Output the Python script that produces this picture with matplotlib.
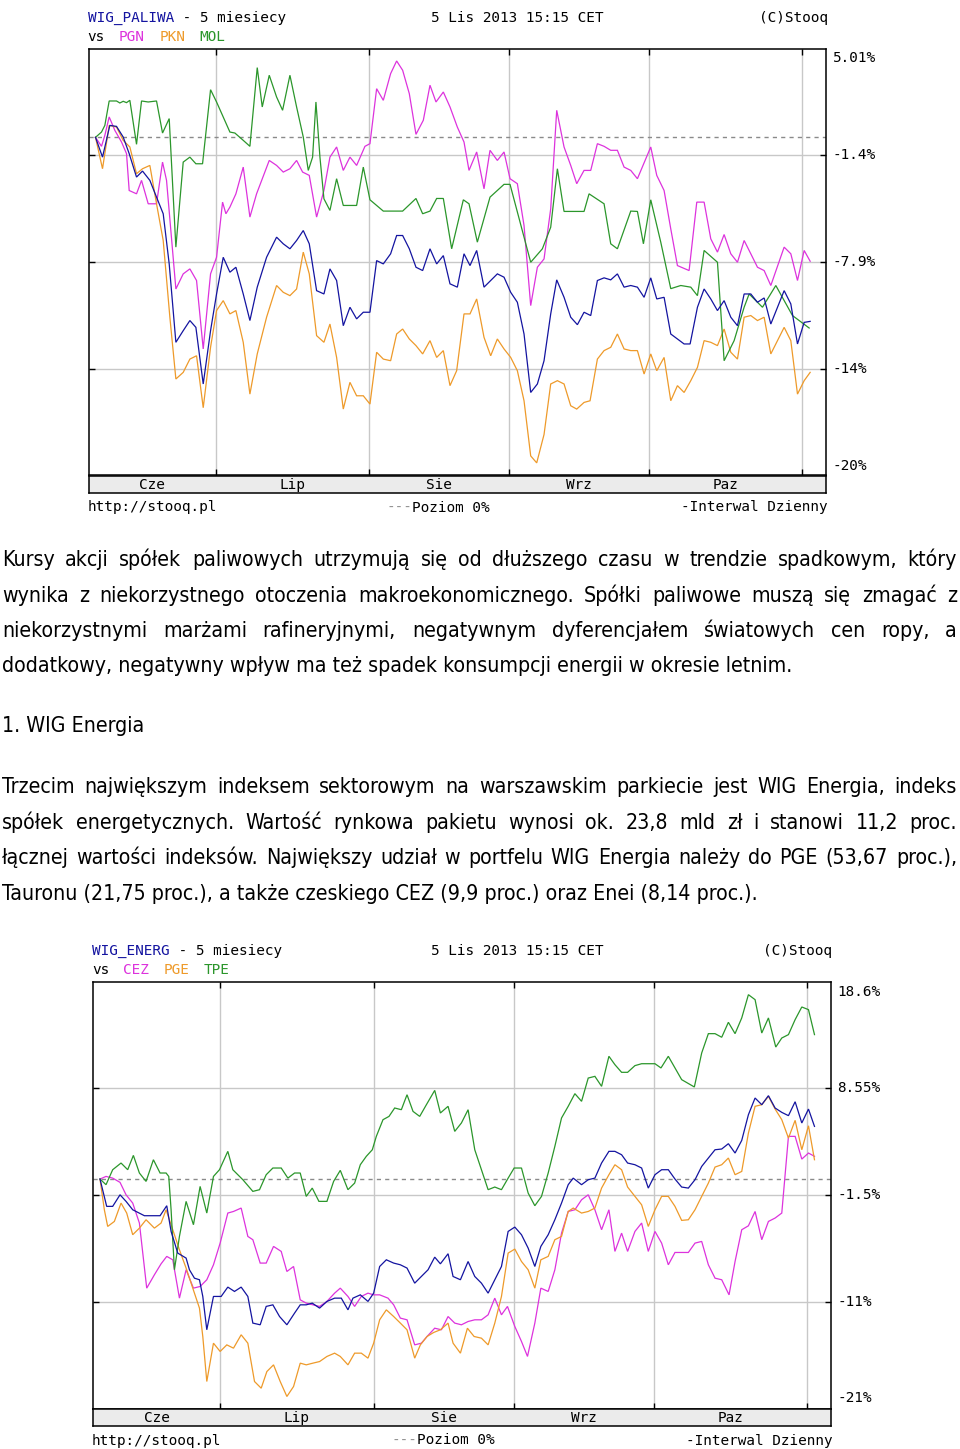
import matplotlib
matplotlib.use("Agg")
import matplotlib.pyplot as plt
from matplotlib import transforms

W, H = 960, 1449

BLUE = '#1414a0'
MAGENTA = '#dd33dd'
ORANGE = '#ee9a2a'
GREEN = '#2b962b'
GRID = '#c8c8c8'

# x = trading day counted from 5 Jun 2013, month boundaries Jul..Nov
month_starts = [18, 41, 62, 83, 106]
month_names = ['Cze', 'Lip', 'Sie', 'Wrz', 'Paz']

# ---- chart 1: WIG_PALIWA vs PGN, PKN, MOL (% change) ----
paliwa_levels = [5.35, -1.07, -7.49, -13.93, -20.36]
paliwa_labels = ['5.01%', '-1.4%', '-7.9%', '-14%', '-20%']

wig_paliwa_d = [0, 1.05, 2.15, 3.15, 4.15, 5.05, 6.15, 7.05, 8.15, 9.15,
                10.15, 11.05, 12.05, 13.15, 14.15, 15.05, 16.15, 17.25, 18.15, 19.15,
                20.15, 21.05, 22.15, 23.15, 24.25, 25.65, 27.15, 28.15, 29.15, 30.15,
                31.15, 32.05, 33.15, 34.25, 35.15, 36.15, 37.15, 38.15, 39.15, 40.15,
                41.15, 42.15, 43.15, 44.25, 45.15, 46.05, 47.05, 48.05, 49.05, 50.15,
                51.15, 52.15, 53.15, 54.25, 55.25, 56.15, 57.15, 58.25, 59.25, 60.25,
                61.25, 62.25, 63.25, 64.25, 65.25, 66.25, 67.25, 68.25, 69.15, 70.25,
                71.25, 72.25, 73.25, 74.25, 75.25, 76.25, 77.25, 78.25, 79.25, 80.25,
                81.25, 82.25, 83.25, 84.15, 85.25, 86.25, 87.25, 88.25, 89.15, 90.25,
                91.25, 92.25, 93.25, 94.25, 95.25, 96.25, 97.25, 98.25, 99.25, 100.25,
                101.25, 103.25, 104.25, 105.25, 106.25, 107.15]
wig_paliwa_v = [0.0, -1.19, 0.72, 0.66, 0.02, -0.98, -2.39, -2.03, -2.59, -3.60,
                -4.60, -7.62, -12.34, -11.64, -11.03, -11.44, -14.85, -11.64, -9.43, -7.22,
                -8.12, -7.82, -9.43, -11.03, -9.02, -7.22, -6.01, -6.41, -6.71, -6.21,
                -5.61, -6.41, -9.23, -9.43, -7.92, -8.62, -11.34, -10.23, -10.93, -10.53,
                -10.53, -7.42, -7.62, -7.01, -5.91, -5.91, -6.71, -7.82, -8.02, -6.71,
                -7.62, -7.12, -8.82, -9.02, -7.01, -7.72, -6.81, -9.02, -8.62, -8.22,
                -8.42, -9.33, -9.93, -11.84, -15.36, -14.85, -13.45, -10.63, -8.58, -9.63,
                -10.83, -11.28, -10.53, -10.73, -8.62, -8.46, -8.58, -8.22, -9.02, -8.92,
                -9.02, -9.63, -8.46, -9.73, -9.63, -11.84, -12.14, -12.44, -12.44, -10.23,
                -9.13, -9.73, -10.43, -9.83, -10.83, -11.34, -9.43, -9.43, -9.93, -9.67,
                -11.24, -9.23, -10.03, -12.44, -11.14, -11.08]

pgn_d = [0, 0.9, 1.4, 2.05, 2.9, 3.9, 4.65, 5.05, 6.15, 6.9,
         7.9, 9.15, 10.05, 10.65, 12.05, 13.15, 14.15, 15.15, 16.15, 17.25,
         18.15, 19.05, 19.55, 20.15, 21.05, 22.15, 23.15, 24.15, 26.05, 27.15,
         28.15, 29.15, 30.15, 31.05, 32.05, 33.15, 34.25, 35.15, 36.15, 37.15,
         38.15, 39.15, 40.4, 41.15, 42.15, 43.15, 44.25, 45.15, 46.05, 47.05,
         48.05, 49.15, 50.15, 51.05, 52.15, 53.15, 54.25, 55.25, 56.0, 57.15,
         58.25, 59.15, 60.25, 61.25, 62.15, 63.25, 64.25, 65.25, 66.25, 67.25,
         68.25, 69.15, 70.25, 71.25, 72.15, 73.25, 74.25, 75.25, 76.25, 77.25,
         78.25, 79.25, 80.25, 81.25, 83.25, 84.15, 85.25, 86.25, 87.25, 89.0,
         90.15, 91.25, 92.25, 93.25, 94.25, 95.25, 96.25, 97.25, 98.25, 99.25,
         100.25, 101.25, 103.25, 104.25, 105.25, 106.25, 107.15]
pgn_v = [0.0, -0.54, 0.12, 1.23, 0.42, -0.28, -0.98, -3.20, -3.40, -2.59,
         -4.00, -4.00, -1.49, -2.59, -9.13, -8.22, -7.92, -8.62, -12.74, -8.22,
         -7.22, -3.90, -4.60, -4.20, -3.40, -1.79, -4.80, -3.40, -1.39, -1.69,
         -2.09, -1.89, -1.39, -2.09, -2.29, -4.80, -3.20, -1.19, -0.58, -1.99,
         -1.19, -1.69, -0.54, -0.38, 2.93, 2.23, 3.84, 4.60, 4.04, 2.63,
         0.18, 1.03, 3.14, 2.13, 2.73, 1.83, 0.62, -0.28, -1.99, -0.88,
         -3.10, -0.78, -1.39, -0.88, -2.49, -2.79, -5.31, -10.13, -7.82, -7.32,
         -4.30, 1.63, -0.58, -1.69, -2.79, -1.99, -1.99, -0.38, -0.54, -0.78,
         -0.78, -1.79, -1.99, -2.49, -0.58, -2.29, -3.20, -5.51, -7.72, -8.02,
         -3.90, -3.90, -6.11, -6.91, -5.85, -7.01, -7.52, -6.21, -7.01, -7.82,
         -8.02, -8.92, -6.61, -7.01, -8.62, -6.81, -7.46]

pkn_d = [0, 1.05, 2.05, 3.15, 4.15, 5.15, 6.15, 7.05, 8.15, 9.15,
         10.15, 11.15, 12.05, 13.15, 14.15, 15.15, 16.15, 17.25, 18.15, 19.15,
         20.15, 21.05, 22.15, 23.15, 24.25, 25.65, 27.15, 28.15, 29.15, 30.15,
         31.15, 32.05, 33.15, 34.25, 35.15, 36.15, 37.15, 38.15, 39.15, 40.15,
         41.15, 42.15, 43.15, 44.25, 45.15, 46.05, 47.05, 48.05, 49.05, 50.15,
         51.15, 52.15, 53.15, 54.15, 55.25, 56.15, 57.15, 58.25, 59.25, 60.25,
         61.25, 62.25, 63.25, 64.25, 65.25, 66.15, 67.25, 68.25, 69.25, 70.25,
         71.25, 72.15, 73.25, 74.15, 75.25, 76.25, 77.25, 78.25, 79.25, 80.25,
         81.25, 82.25, 83.25, 84.15, 85.25, 86.25, 87.25, 88.25, 89.25, 90.25,
         91.25, 92.25, 93.25, 94.25, 95.25, 96.25, 97.25, 98.25, 99.25, 100.25,
         101.25, 103.25, 104.25, 105.25, 106.25, 107.15]
pkn_v = [0.0, -1.89, 0.72, 0.62, -0.18, -0.58, -2.19, -1.89, -1.69, -4.00,
         -6.21, -10.83, -14.55, -14.15, -13.35, -13.15, -16.28, -12.64, -10.43, -9.83,
         -10.63, -10.43, -12.34, -15.46, -13.04, -10.83, -8.92, -9.33, -9.53, -9.13,
         -6.91, -8.22, -11.94, -12.34, -11.24, -13.25, -16.36, -14.75, -15.56, -15.56,
         -16.06, -12.94, -13.35, -13.45, -11.84, -11.54, -12.14, -12.54, -13.04, -12.24,
         -13.25, -12.84, -14.95, -14.05, -10.63, -10.63, -9.73, -12.04, -13.15, -12.14,
         -12.74, -13.25, -14.05, -15.86, -19.18, -19.60, -17.89, -14.85, -14.65, -14.85,
         -16.16, -16.36, -15.96, -15.86, -13.35, -12.84, -12.64, -11.84, -12.74, -12.84,
         -12.84, -14.25, -13.04, -14.05, -13.25, -15.86, -14.95, -15.36, -14.65, -13.85,
         -12.24, -12.34, -12.54, -11.54, -12.94, -13.35, -10.83, -10.73, -11.03, -10.83,
         -13.04, -11.44, -12.24, -15.46, -14.65, -14.15]

mol_d = [0, 0.9, 1.4, 2.05, 3.15, 3.65, 4.15, 4.65, 5.15, 6.15,
         6.9, 7.9, 9.15, 10.05, 11.05, 12.05, 13.15, 14.15, 15.05, 16.05,
         17.25, 18.15, 20.15, 20.9, 22.15, 23.15, 24.25, 25.0, 26.05, 27.15,
         28.05, 29.15, 30.15, 31.15, 31.9, 32.55, 33.05, 33.65, 34.25, 35.15,
         36.15, 37.15, 39.15, 40.15, 41.15, 43.15, 46.05, 48.05, 49.05, 50.15,
         51.15, 52.15, 53.4, 55.15, 56.0, 57.25, 59.15, 61.25, 62.15, 63.75,
         65.25, 67.0, 68.25, 69.25, 70.25, 73.25, 74.0, 76.25, 77.25, 78.25,
         80.25, 81.25, 82.15, 83.25, 84.75, 86.25, 87.75, 89.25, 90.25, 91.25,
         93.25, 94.25, 95.75, 97.25, 98.0, 100.0, 102.0, 104.5, 107.0]
mol_v = [0.0, 0.32, 0.72, 2.19, 2.19, 2.07, 2.17, 2.09, 2.23, -0.42,
         2.19, 2.13, 2.19, 0.26, 1.13, -6.61, -1.49, -1.19, -1.59, -1.59,
         2.87, 2.13, 0.32, 0.26, -0.18, -0.54, 4.20, 1.83, 3.74, 2.43,
         1.63, 3.74, 1.83, 0.02, -1.99, -1.19, 2.13, -1.19, -3.70, -4.40,
         -2.49, -4.10, -4.10, -1.79, -3.76, -4.44, -4.44, -3.68, -4.60, -4.44,
         -3.68, -3.68, -6.71, -3.76, -4.00, -6.31, -3.60, -2.83, -2.83, -5.25,
         -7.52, -6.71, -5.41, -1.89, -4.46, -4.46, -3.40, -4.00, -6.41, -6.71,
         -4.44, -4.46, -6.41, -3.76, -6.31, -9.11, -8.92, -9.02, -9.53, -6.81,
         -7.52, -13.45, -12.24, -10.23, -9.43, -10.23, -8.92, -10.73, -11.48]

# ---- chart 2: WIG_ENERG vs CEZ, PGE, TPE (% change) ----
energ_levels = [18.6, 8.55, -1.5, -11.55, -21.6]
energ_labels = ['18.6%', '8.55%', '-1.5%', '-11%', '-21%']

wig_energ_d = [0, 1.0, 1.9, 3.0, 3.9, 4.9, 6.65, 9.0, 10.0, 10.65,
               11.65, 12.9, 13.4, 14.15, 14.9, 15.4, 16.0, 17.0, 18.15, 19.15,
               20.15, 21.15, 22.15, 22.9, 24.0, 24.9, 25.9, 26.9, 28.0, 29.15,
               30.0, 30.9, 31.8, 32.9, 34.0, 35.15, 36.15, 37.15, 37.9, 39.0,
               40.15, 41.0, 41.9, 42.9, 44.0, 45.0, 46.0, 47.15, 48.4, 49.15,
               50.15, 51.0, 52.15, 52.9, 54.0, 55.15, 56.15, 57.15, 58.15, 59.15,
               60.15, 61.15, 62.15, 63.15, 64.15, 65.15, 66.05, 67.15, 68.15, 69.15,
               70.15, 70.9, 72.15, 73.15, 74.15, 75.15, 76.25, 77.15, 78.15, 79.05,
               80.15, 81.15, 82.15, 83.15, 84.15, 85.15, 86.15, 87.15, 88.15, 89.15,
               90.15, 91.15, 92.15, 93.15, 94.15, 95.15, 96.15, 97.15, 98.15, 99.15,
               100.15, 101.15, 102.15, 103.15, 104.15, 105.15, 106.15, 107.05]
wig_energ_v = [0.0, -2.57, -2.57, -1.48, -2.10, -2.89, -3.45, -3.45, -2.51, -4.93,
               -6.97, -7.44, -8.54, -9.33, -9.48, -11.05, -14.19, -11.05, -11.05, -10.17,
               -10.58, -10.17, -11.05, -13.56, -13.72, -11.99, -11.84, -12.94, -13.72, -12.62,
               -11.84, -11.84, -11.68, -12.15, -11.52, -11.21, -11.21, -12.31, -11.21, -10.90,
               -11.52, -10.74, -8.23, -7.60, -7.91, -8.07, -8.38, -9.80, -9.01, -8.54,
               -7.35, -7.98, -7.03, -9.17, -9.48, -7.76, -9.17, -9.80, -10.74, -9.48,
               -8.23, -4.93, -4.52, -5.24, -6.50, -8.23, -6.34, -5.24, -3.83, -2.26,
               -0.53, 0.09, -0.53, -0.06, 0.09, 1.51, 2.61, 2.61, 2.29, 1.51,
               1.35, 1.04, -0.85, 0.41, 0.88, 0.88, 0.0, -0.75, -0.85, -0.06,
               1.19, 1.98, 2.76, 2.83, 3.33, 2.45, 3.64, 6.06, 7.63, 7.00,
               7.85, 6.69, 6.28, 5.97, 7.28, 5.28, 6.59, 4.96]

cez_d = [0, 0.9, 1.9, 3.0, 3.9, 4.9, 5.9, 7.0, 8.15, 9.15,
         10.0, 10.9, 11.9, 12.9, 14.0, 15.0, 16.0, 17.0, 18.0, 19.15,
         20.0, 21.15, 22.15, 22.9, 24.0, 24.9, 26.0, 27.15, 28.0, 29.0,
         30.0, 30.9, 31.9, 32.9, 34.0, 35.15, 36.0, 37.15, 38.15, 39.15,
         40.15, 41.0, 41.9, 43.15, 44.0, 45.0, 46.0, 47.15, 48.15, 49.0,
         50.15, 51.15, 52.15, 53.15, 54.15, 55.15, 56.15, 57.15, 58.15, 59.15,
         60.15, 61.05, 62.15, 63.15, 64.05, 65.15, 66.05, 67.15, 68.15, 69.15,
         70.15, 71.15, 72.15, 73.15, 74.15, 75.15, 76.25, 77.15, 78.15, 79.05,
         80.15, 81.15, 82.15, 83.15, 84.15, 85.15, 86.15, 88.15, 89.15, 90.15,
         91.15, 92.15, 93.15, 94.25, 95.15, 96.15, 97.15, 98.15, 99.15, 100.15,
         101.15, 102.15, 103.15, 104.15, 105.15, 106.15, 107.05]
cez_v = [0.0, 0.25, 0.09, -0.31, -1.48, -2.26, -4.14, -10.27, -9.01, -7.98,
         -7.28, -7.60, -11.21, -8.54, -10.27, -10.11, -9.48, -8.07, -6.03, -3.20,
         -3.05, -2.73, -5.40, -5.71, -7.91, -7.91, -6.34, -6.81, -8.70, -8.23,
         -11.37, -11.68, -11.84, -11.99, -11.52, -10.74, -10.27, -11.05, -11.99, -11.05,
         -10.74, -10.90, -10.90, -11.21, -11.84, -13.09, -13.25, -15.61, -15.45, -14.82,
         -14.04, -14.19, -12.94, -13.56, -13.72, -13.41, -13.25, -13.25, -12.78, -11.21,
         -12.78, -11.99, -13.88, -15.29, -16.70, -13.56, -10.27, -10.58, -8.54, -5.09,
         -3.05, -2.89, -1.95, -1.48, -2.89, -4.77, -2.89, -6.81, -5.09, -6.81,
         -4.93, -4.14, -6.81, -4.93, -6.03, -8.07, -6.91, -6.91, -6.03, -5.87,
         -8.07, -9.33, -9.48, -10.90, -7.76, -4.77, -4.40, -3.05, -5.71, -3.99,
         -3.67, -3.20, 4.02, 4.02, 1.88, 2.45, 2.14]

pge_d = [0, 0.65, 1.15, 2.15, 3.15, 4.0, 4.9, 5.9, 6.9, 8.15,
         9.15, 9.9, 10.9, 11.9, 12.9, 13.9, 14.9, 15.4, 16.0, 17.0,
         18.0, 19.0, 20.0, 21.15, 22.15, 23.15, 24.15, 25.0, 26.0, 27.0,
         28.0, 29.0, 30.0, 30.9, 31.9, 32.9, 34.0, 35.15, 36.0, 37.15,
         38.15, 39.15, 40.15, 41.0, 41.9, 42.9, 44.0, 45.0, 46.0, 47.15,
         48.0, 49.0, 50.0, 51.0, 52.15, 52.9, 54.0, 55.05, 56.05, 57.15,
         58.15, 59.15, 60.15, 61.15, 62.15, 63.15, 64.15, 65.15, 66.05, 67.15,
         68.15, 69.15, 70.15, 70.9, 72.15, 73.15, 74.15, 75.15, 76.25, 77.15,
         78.15, 79.05, 80.15, 81.15, 82.15, 83.15, 84.15, 85.15, 86.15, 87.15,
         88.15, 89.15, 90.15, 91.15, 92.15, 93.15, 94.15, 95.15, 96.15, 97.15,
         98.15, 99.15, 100.15, 101.15, 102.15, 103.15, 104.15, 105.15, 106.15, 107.05]
pge_v = [0.0, -2.89, -4.46, -3.99, -2.26, -3.20, -5.24, -4.62, -3.83, -4.62,
         -4.14, -2.89, -4.77, -6.66, -8.38, -10.27, -12.15, -14.82, -19.06, -15.45,
         -16.23, -15.61, -15.92, -14.66, -15.45, -19.06, -19.69, -18.12, -17.49, -19.06,
         -20.47, -19.53, -17.33, -17.49, -17.33, -17.18, -16.70, -16.39, -16.70, -17.49,
         -16.39, -16.39, -16.86, -15.45, -13.25, -12.31, -12.94, -13.56, -14.19, -16.86,
         -15.61, -14.82, -14.44, -14.19, -13.56, -15.45, -16.39, -14.04, -14.82, -14.98,
         -15.61, -13.56, -11.05, -6.97, -6.59, -7.76, -8.54, -10.27, -7.60, -7.28,
         -5.71, -5.40, -3.05, -2.73, -3.20, -3.05, -2.73, -0.85, 0.41, 1.35,
         0.88, -0.75, -1.63, -2.42, -4.46, -2.89, -1.63, -1.63, -2.57, -3.89,
         -3.83, -2.89, -1.63, -0.38, 1.13, 1.35, 1.98, 0.41, 0.72, 4.33,
         6.85, 7.00, 7.79, 6.59, 5.59, 3.86, 5.53, 2.76, 5.02, 1.82]

tpe_d = [0, 0.9, 1.9, 3.15, 4.15, 5.0, 5.9, 6.9, 8.0, 9.0,
         9.9, 10.3, 10.65, 11.15, 11.9, 12.9, 14.0, 15.0, 16.0, 17.0,
         17.9, 19.15, 19.9, 21.4, 22.9, 23.9, 24.9, 25.9, 27.15, 28.15,
         29.15, 30.0, 30.9, 31.8, 32.8, 34.0, 35.0, 36.0, 37.15, 38.15,
         39.0, 39.9, 40.8, 41.4, 42.4, 43.3, 44.15, 45.15, 46.0, 46.9,
         47.9, 48.9, 50.15, 51.0, 52.15, 53.15, 54.15, 55.15, 56.15, 57.15,
         58.15, 59.15, 60.15, 61.15, 62.05, 63.15, 64.15, 65.15, 66.15, 67.15,
         68.15, 69.15, 70.15, 71.15, 72.15, 73.15, 74.15, 75.15, 76.25, 77.15,
         78.15, 79.05, 80.15, 81.15, 83.15, 84.05, 85.15, 86.15, 87.15, 89.05,
         90.15, 91.15, 92.15, 93.15, 94.15, 95.15, 96.15, 97.15, 98.15, 99.15,
         100.15, 101.25, 102.15, 103.15, 104.15, 105.15, 106.15, 107.05]
tpe_v = [0.0, -0.53, 0.88, 1.51, 0.88, 2.23, 0.57, -0.22, 1.82, 0.57,
         0.57, 0.25, -2.89, -8.54, -5.40, -2.10, -4.30, -0.69, -3.20, 0.25,
         0.88, 2.61, 0.88, -0.06, -1.16, -1.00, 0.41, 1.04, 1.04, 0.09,
         0.57, 0.57, -1.63, -0.85, -2.10, -2.10, -0.22, 0.82, -1.00, -0.38,
         1.35, 2.14, 2.76, 4.02, 5.59, 5.90, 6.69, 6.53, 7.94, 6.37,
         5.90, 7.00, 8.35, 6.22, 6.85, 4.49, 5.28, 6.53, 2.76, 0.88,
         -1.00, -0.75, -1.00, 0.09, 1.04, 1.04, -1.32, -2.51, -1.63, 0.57,
         3.08, 5.75, 6.85, 8.04, 7.32, 9.51, 9.67, 8.73, 11.56, 10.77,
         10.05, 10.05, 10.68, 10.86, 10.86, 10.46, 11.56, 10.46, 9.36, 8.67,
         11.87, 13.69, 13.69, 13.35, 14.76, 13.69, 15.17, 17.36, 16.89, 13.75,
         15.17, 12.43, 13.28, 13.60, 15.01, 16.20, 15.95, 13.60]

# ---- article text ----
para1 = ["Kursy akcji spółek paliwowych utrzymują się od dłuższego czasu w trendzie spadkowym, który",
         "wynika z niekorzystnego otoczenia makroekonomicznego. Spółki paliwowe muszą się zmagać z",
         "niekorzystnymi marżami rafineryjnymi, negatywnym dyferencjałem światowych cen ropy, a",
         "dodatkowy, negatywny wpływ ma też spadek konsumpcji energii w okresie letnim."]
heading = "1. WIG Energia"
para2 = ["Trzecim największym indeksem sektorowym na warszawskim parkiecie jest WIG Energia, indeks",
         "spółek energetycznych. Wartość rynkowa pakietu wynosi ok. 23,8 mld zł i stanowi 11,2 proc.",
         "łącznej wartości indeksów. Największy udział w portfelu WIG Energia należy do PGE (53,67 proc.),",
         "Tauronu (21,75 proc.), a także czeskiego CEZ (9,9 proc.) oraz Enei (8,14 proc.)."]

fig = plt.figure(figsize=(W / 100, H / 100), dpi=100)
renderer = fig.canvas.get_renderer()

MONO = dict(family='DejaVu Sans Mono', fontsize=10.4)
PARA = dict(family='DejaVu Sans', fontstretch='condensed')


def fx(x):
    return x / W


def fy(y):
    return 1 - y / H


def width_of(s, **kw):
    t = fig.text(0, 0, s, **kw)
    w = t.get_window_extent(renderer).width
    t.remove()
    return w


char_w = width_of('M' * 20, **MONO) / 20


def runs(x, y, parts):
    # parts: list of (text, color); monospace so advance by characters
    for s, c in parts:
        if s.strip():
            fig.text(fx(x), fy(y), s, color=c, va='baseline', ha='left', **MONO)
        x += len(s) * char_w


def chart(left, top, right, bottom, strip_h, levels, labels, series,
          title, vs, header_y):
    ax = fig.add_axes([fx(left), fy(bottom), (right - left) / W, (bottom - top) / H])
    ax.set_xlim(-1.05, 109.45)
    ax.set_ylim(levels[-1], levels[0])
    for lvl in levels[1:-1]:
        ax.axhline(lvl, color=GRID, lw=1, zorder=1)
    for m in month_starts:
        ax.axvline(m, color=GRID, lw=1, zorder=1)
    ax.axhline(0, color='#8a8a8a', lw=1, ls=(0, (3, 3)), zorder=1)
    for d, v, c in series:
        ax.plot(d, v, color=c, lw=0.9, zorder=3, solid_joinstyle='miter')
    ax.set_xticks(month_starts)
    ax.set_yticks(levels[1:-1])
    ax.tick_params(direction='in', length=4, width=1, top=True, right=True,
                   labelbottom=False, labelleft=False)
    for sp in ax.spines.values():
        sp.set_linewidth(1.1)

    trans = transforms.blended_transform_factory(ax.transAxes, ax.transData)
    for i, (lvl, lab) in enumerate(zip(levels, labels)):
        if i == 0:
            va, dy = 'top', -3
        elif i == len(levels) - 1:
            va, dy = 'bottom', 3
        else:
            va, dy = 'center', 0
        t = transforms.offset_copy(trans, fig=fig, x=7, y=dy, units='dots')
        ax.text(1, lvl, lab, transform=t, ha='left', va=va, clip_on=False, **MONO)

    sx = fig.add_axes([fx(left), fy(bottom + strip_h), (right - left) / W, strip_h / H])
    sx.set_facecolor('#ebebeb')
    sx.set_xlim(ax.get_xlim())
    sx.set_ylim(0, 1)
    sx.set_xticks([])
    sx.set_yticks([])
    for sp in sx.spines.values():
        sp.set_linewidth(1.1)
    bounds = [ax.get_xlim()[0]] + month_starts
    for a, b, name in zip(bounds[:-1], bounds[1:], month_names):
        sx.text((a + b) / 2, 0.45, name, ha='center', va='center', **MONO)

    runs(left - 1, header_y, title)
    fig.text(fx(517), fy(header_y), '5 Lis 2013 15:15 CET', ha='center',
             va='baseline', **MONO)
    fig.text(fx(right + 2), fy(header_y), '(C)Stooq', ha='right', va='baseline', **MONO)
    for (s, c), off in zip(vs, [0, 31, 72, 112]):
        fig.text(fx(left - 1 + off), fy(header_y + 19), s, color=c,
                 va='baseline', **MONO)

    foot_y = bottom + strip_h + 19
    fig.text(fx(left - 1), fy(foot_y), 'http://stooq.pl', va='baseline', **MONO)
    runs(left + 298, foot_y, [('---', '#909090'), ('Poziom 0%', 'black')])
    fig.text(fx(right + 2), fy(foot_y), '-Interwal Dzienny', ha='right',
             va='baseline', **MONO)


chart(88.5, 48.5, 825.5, 475.5, 17, paliwa_levels, paliwa_labels,
      [(pgn_d, pgn_v, MAGENTA), (pkn_d, pkn_v, ORANGE), (mol_d, mol_v, GREEN),
       (wig_paliwa_d, wig_paliwa_v, BLUE)],
      [('WIG_PALIWA', BLUE), (' - 5 miesiecy', 'black')],
      [('vs', 'black'), ('PGN', MAGENTA), ('PKN', ORANGE), ('MOL', GREEN)],
      22)

chart(93, 981.5, 830.5, 1408.5, 17, energ_levels, energ_labels,
      [(cez_d, cez_v, MAGENTA), (pge_d, pge_v, ORANGE), (tpe_d, tpe_v, GREEN),
       (wig_energ_d, wig_energ_v, BLUE)],
      [('WIG_ENERG', BLUE), (' - 5 miesiecy', 'black')],
      [('vs', 'black'), ('CEZ', MAGENTA), ('PGE', ORANGE), ('TPE', GREEN)],
      955)

# paragraph text, justified between x=2 and x=957
fs = 20 * 788 / width_of(para1[-1], fontsize=20, **PARA)
TX0, TX1 = 2, 957


def justified(lines, baselines):
    for i, (line, yb) in enumerate(zip(lines, baselines)):
        if i == len(lines) - 1:
            fig.text(fx(TX0), fy(yb), line, fontsize=fs, va='baseline', **PARA)
            continue
        words = line.split()
        ws = [width_of(w, fontsize=fs, **PARA) for w in words]
        gap = (TX1 - TX0 - sum(ws)) / (len(words) - 1)
        x = TX0
        for w, wd in zip(words, ws):
            fig.text(fx(x), fy(yb), w, fontsize=fs, va='baseline', **PARA)
            x += wd + gap


justified(para1, [566, 601.5, 637, 672.5])
fig.text(fx(TX0), fy(732), heading, fontsize=fs, va='baseline', **PARA)
justified(para2, [793, 828.5, 864, 899.5])

fig.savefig('out.png', dpi=100)
